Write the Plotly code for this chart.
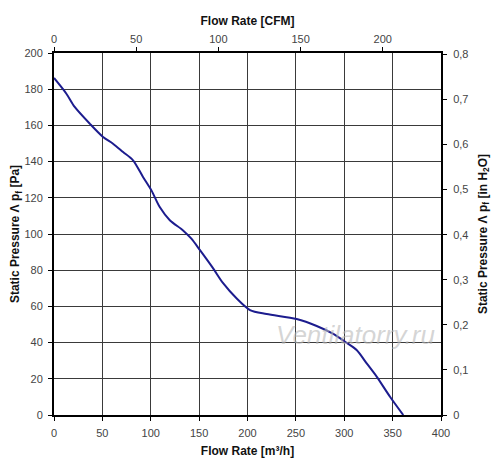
import plotly.graph_objects as go

flow_m3h = [0, 12.8, 21.4, 36.9, 50.7, 61, 71.4, 81.7, 92, 100.7, 109.3, 119.7, 133.4, 142,
            150.7, 164.5, 174.8, 188.6, 202.6, 219.8, 250.8, 271.5, 288.7, 300.8, 312.8,
            323.2, 333.5, 347.3, 361]
pressure_pa = [186.2, 177.5, 170.2, 161, 153.6, 149.9, 145.3, 140.7, 131.5, 124.1, 114.9, 107.6, 102, 97.4,
               91.2, 81, 72.8, 64.5, 58.0, 55.8, 53, 49.2, 44.8, 40.5, 35.9,
               28.5, 21.2, 10.1, 0]

x_ticks = [0, 50, 100, 150, 200, 250, 300, 350, 400]
y_ticks = [0, 20, 40, 60, 80, 100, 120, 140, 160, 180, 200]
cfm_ticks = [0, 50, 100, 150, 200]
inh2o_ticks = [0, 0.1, 0.2, 0.3, 0.4, 0.5, 0.6, 0.7, 0.8]
inh2o_labels = ["0", "0,1", "0,2", "0,3", "0,4", "0,5", "0,6", "0,7", "0,8"]

M3H_PER_CFM = 1.69901
PA_PER_INH2O = 249.089

fig = go.Figure()
fig.add_trace(go.Scatter(x=flow_m3h, y=pressure_pa, mode="lines",
                         line=dict(color="#1c1c8e", width=2, shape="spline", smoothing=0.8),
                         showlegend=False, hoverinfo="skip"))
fig.add_trace(go.Scatter(x=[0], y=[0], xaxis="x2", yaxis="y2", mode="markers",
                         marker=dict(opacity=0), showlegend=False, hoverinfo="skip"))

tickfont = dict(family="Arial, Liberation Sans, sans-serif", size=11, color="#444444")
titlefont = dict(family="Arial, Liberation Sans, sans-serif", size=12, color="#111111")

common = dict(showline=True, linecolor="black", linewidth=2, ticks="outside", ticklen=4,
              tickcolor="black", tickfont=tickfont, zeroline=False, automargin=False)

fig.update_layout(
    width=492, height=465,
    margin=dict(l=46, r=59, t=45, b=58, autoexpand=False),
    paper_bgcolor="white", plot_bgcolor="white",
    xaxis=dict(range=[0, 400], tickvals=x_ticks, showgrid=True, gridcolor="#3a3a3a", gridwidth=1,
               ticklabelstandoff=3,
               title=dict(text="<b>Flow Rate [m³/h]</b>", font=titlefont, standoff=8), **common),
    yaxis=dict(range=[0, 200], tickvals=y_ticks, showgrid=True, gridcolor="#3a3a3a", gridwidth=1,
               ticklabelstandoff=3,
               title=dict(text="<b>Static Pressure Λ p<sub>f</sub> [Pa]</b>", font=titlefont, standoff=8),
               **common),
    xaxis2=dict(range=[0, 400 / M3H_PER_CFM], tickvals=cfm_ticks, overlaying="x", side="top",
                showgrid=False,
                title=dict(text="<b>Flow Rate [CFM]</b>", font=titlefont, standoff=4), **common),
    yaxis2=dict(range=[0, 200 / PA_PER_INH2O], tickvals=inh2o_ticks, ticktext=inh2o_labels,
                overlaying="y", side="right", showgrid=False, ticklabelstandoff=4,
                title=dict(text="<b>Static Pressure Λ p<sub>f</sub> [in H<sub>2</sub>O]</b>",
                           font=titlefont, standoff=11), **common),
    annotations=[dict(text="<i>Ventilatorry.ru</i>", x=0.78, y=0.22, xref="paper", yref="paper",
                      xanchor="center", yanchor="middle", showarrow=False,
                      font=dict(family="Arial, Liberation Sans, sans-serif",
                                size=26, color="rgba(185,185,185,0.6)"))],
)

fig.write_html("out.html")
